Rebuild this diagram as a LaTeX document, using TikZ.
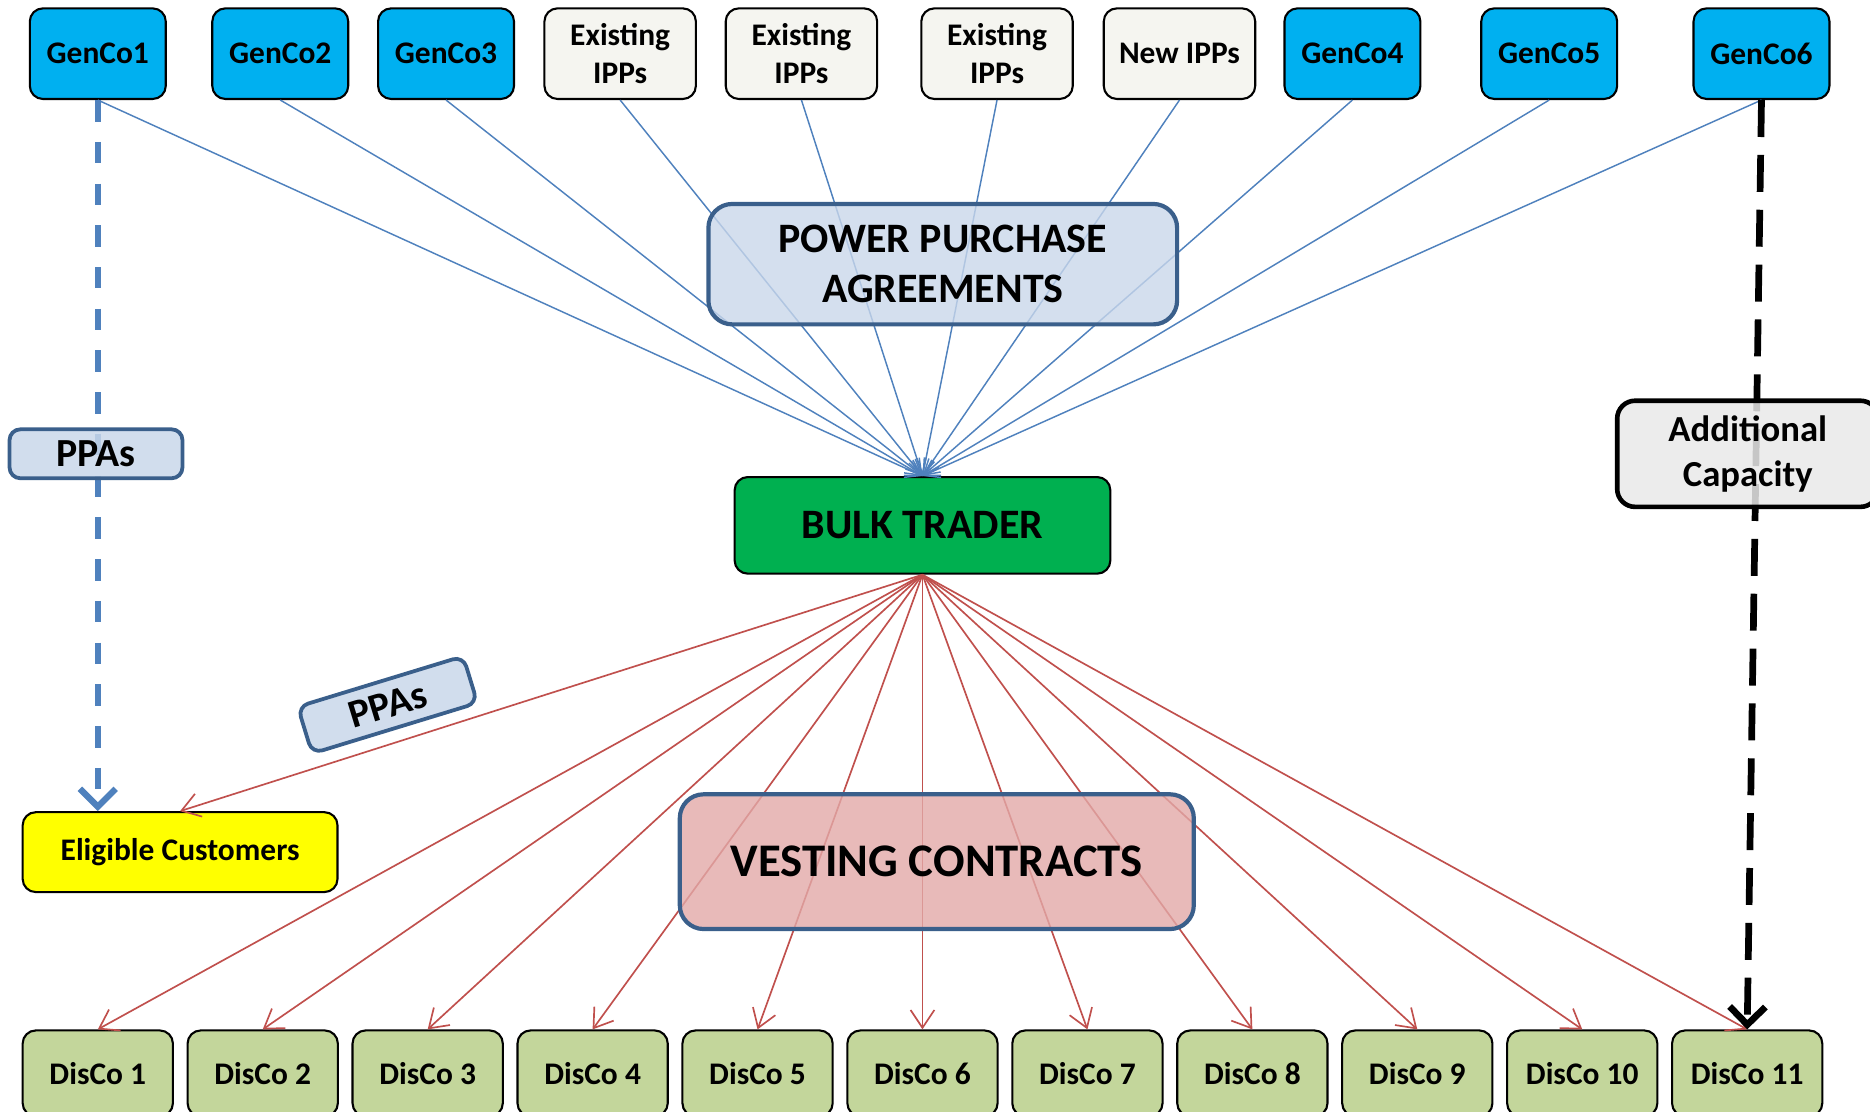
\documentclass[tikz,border=0pt]{standalone}
\usepackage{fontspec}
\setmainfont{Carlito}
\usetikzlibrary{arrows.meta}
\definecolor{gencoblue}{HTML}{00B0F0}
\definecolor{ippgrey}{HTML}{F5F5F0}
\definecolor{tradergreen}{HTML}{00B050}
\definecolor{ppafill}{HTML}{C9D7EA}
\definecolor{ppaedge}{HTML}{3A5F8B}
\definecolor{vestfill}{HTML}{E2A9A8}
\definecolor{discogreen}{HTML}{C3D69B}
\definecolor{eligyellow}{HTML}{FFFF00}
\definecolor{linkblue}{HTML}{4F81BD}
\definecolor{linkred}{HTML}{C0504D}
\definecolor{capgrey}{HTML}{E9E9E9}

\tikzset{
  box/.style={draw=black, line width=1pt, rounded corners=0.22cm, align=center,
    inner sep=0pt, font=\bfseries\fontsize{15}{18}\selectfont},
  genco/.style={box, fill=gencoblue, minimum width=2.28cm, minimum height=1.52cm},
  ipp/.style={box, fill=ippgrey, minimum width=2.54cm, minimum height=1.52cm},
  disco/.style={box, fill=discogreen, minimum width=2.52cm, minimum height=1.44cm},
  contract/.style={draw=ppaedge, line width=2pt, rounded corners=0.4cm, align=center,
    fill opacity=0.8, text opacity=1, inner sep=0pt,
    font=\bfseries\fontsize{20}{23.8}\selectfont},
  tag/.style={draw=ppaedge, fill=ppafill, line width=1.8pt, rounded corners=0.18cm,
    fill opacity=0.85, text opacity=1, inner sep=0pt,
    minimum width=2.9cm, minimum height=0.82cm, font=\bfseries\fontsize{19}{22}\selectfont},
  ppaline/.style={linkblue, line width=0.7pt, -{Straight Barb[length=2.5mm,width=3mm]}},
  vestline/.style={linkred, line width=0.8pt, -{Straight Barb[length=3mm,width=4mm]}}
}

\begin{document}
\begin{tikzpicture}
  \useasboundingbox (0,0) rectangle (31.36,-18.64);

  \node[genco] (g1) at (1.64,-0.90) {GenCo1};
  \node[genco] (g2) at (4.70,-0.90) {GenCo2};
  \node[genco] (g3) at (7.48,-0.90) {GenCo3};
  \node[ipp] (ipp1) at (10.40,-0.90) {Existing\\IPPs};
  \node[ipp] (ipp2) at (13.44,-0.90) {Existing\\IPPs};
  \node[ipp] (ipp3) at (16.72,-0.90) {Existing\\IPPs};
  \node[ipp] (newipp) at (19.78,-0.90) {New IPPs};
  \node[genco] (g4) at (22.68,-0.90) {GenCo4};
  \node[genco] (g5) at (25.98,-0.90) {GenCo5};
  \node[genco] (g6) at (29.54,-0.90) {GenCo6};

  \node[box, fill=tradergreen, minimum width=6.3cm, minimum height=1.62cm,
    font=\bfseries\fontsize{20}{24}\selectfont] (bulk) at (15.47,-8.81) {BULK TRADER};
  \node[box, fill=eligyellow, minimum width=5.28cm, minimum height=1.34cm] (elig)
    at (3.02,-14.29) {Eligible Customers};

  \node[disco] (d1) at (1.64,-18.0) {DisCo 1};
  \node[disco] (d2) at (4.406,-18.0) {DisCo 2};
  \node[disco] (d3) at (7.172,-18.0) {DisCo 3};
  \node[disco] (d4) at (9.938,-18.0) {DisCo 4};
  \node[disco] (d5) at (12.704,-18.0) {DisCo 5};
  \node[disco] (d6) at (15.47,-18.0) {DisCo 6};
  \node[disco] (d7) at (18.236,-18.0) {DisCo 7};
  \node[disco] (d8) at (21.002,-18.0) {DisCo 8};
  \node[disco] (d9) at (23.768,-18.0) {DisCo 9};
  \node[disco] (d10) at (26.534,-18.0) {DisCo 10};
  \node[disco] (d11) at (29.30,-18.0) {DisCo 11};

  \path[ppaline]
    (g1.south) edge (bulk.north)
    (g2.south) edge (bulk.north)
    (g3.south) edge (bulk.north)
    (ipp1.south) edge (bulk.north)
    (ipp2.south) edge (bulk.north)
    (ipp3.south) edge (bulk.north)
    (newipp.south) edge (bulk.north)
    (g4.south) edge (bulk.north)
    (g5.south) edge (bulk.north)
    (g6.south) edge (bulk.north);

  \path[vestline]
    (bulk.south) edge (elig.north)
    (bulk.south) edge (d1.north)
    (bulk.south) edge (d2.north)
    (bulk.south) edge (d3.north)
    (bulk.south) edge (d4.north)
    (bulk.south) edge (d5.north)
    (bulk.south) edge (d6.north)
    (bulk.south) edge (d7.north)
    (bulk.south) edge (d8.north)
    (bulk.south) edge (d9.north)
    (bulk.south) edge (d10.north)
    (bulk.south) edge (d11.north);

  % direct contracts
  \draw[linkblue, line width=3pt, dash pattern=on 0.36cm off 0.34cm,
    -{Straight Barb[length=3mm,width=6mm]}] (g1.south) -- (g1.south |- elig.north);
  \draw[black, line width=3.2pt, dash pattern=on 0.62cm off 0.3cm,
    -{Straight Barb[length=3mm,width=6mm]}] (g6.south) -- (d11.north);

  \node[contract, fill=ppafill, minimum width=7.86cm, minimum height=2.02cm] (ppa)
    at (15.81,-4.43) {POWER PURCHASE\\AGREEMENTS};
  \node[contract, fill=vestfill, minimum width=8.62cm, minimum height=2.26cm,
    font=\bfseries\fontsize{22.3}{26}\selectfont] (vest) at (15.71,-14.45) {VESTING CONTRACTS};
  \node[tag] (ppaleft) at (1.61,-7.61) {PPAs};
  \node[tag, rotate=17] (ppadiag) at (6.50,-11.82) {PPAs};
  \node[draw=black, fill=capgrey, line width=2.2pt, rounded corners=0.3cm,
    fill opacity=0.85, text opacity=1, align=center, inner sep=0pt,
    minimum width=4.38cm, minimum height=1.78cm,
    font=\bfseries\fontsize{17.5}{21.5}\selectfont] (addcap) at (29.31,-7.61) {Additional\\Capacity};
\end{tikzpicture}
\end{document}
